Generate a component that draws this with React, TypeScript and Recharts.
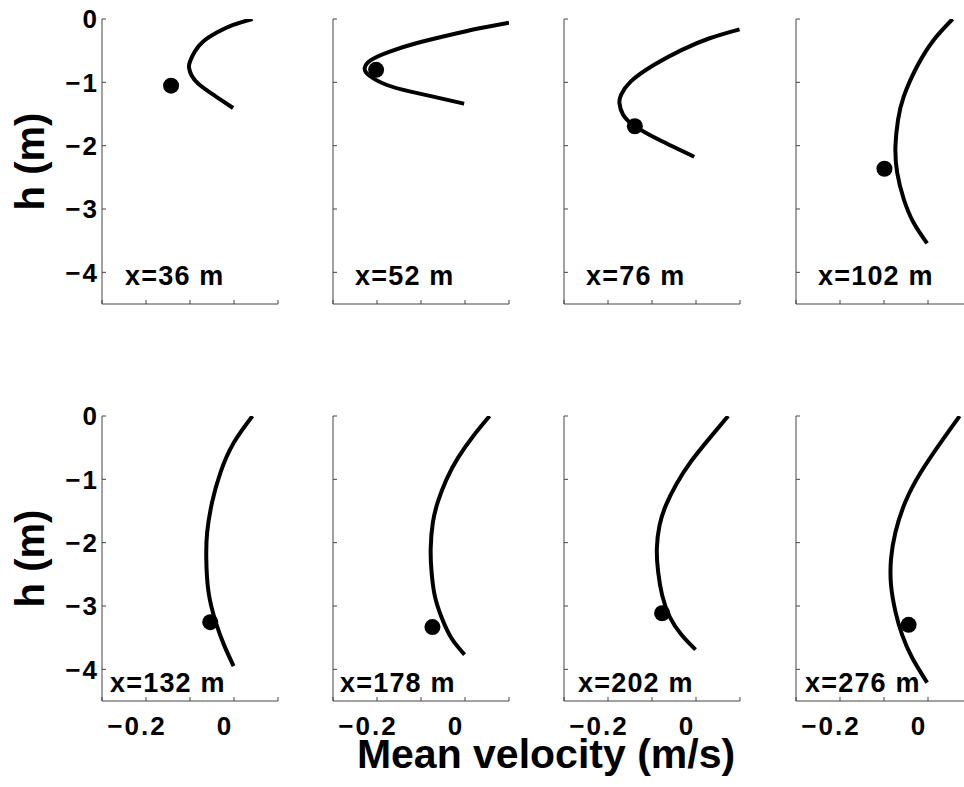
import React from "react";
import { ComposedChart, Line, XAxis, YAxis, ReferenceDot } from "recharts";

// station distance (m) for each panel, left-to-right, top-to-bottom
const stations = [36, 52, 76, 102, 132, 178, 202, 276];

const depthTicks = [0, -1, -2, -3, -4];
const velocityTicks = [-0.3, -0.2, -0.1, 0, 0.1];
const velocityTickLabels: Record<string, string> = { "-0.2": "\u22120.2", "0": "0" };

// velocity profiles: [h (m), mean velocity (m/s)]
const profile36: [number, number][] = [
  [0, 0.042], [-0.094, -0.002], [-0.215, -0.039], [-0.356, -0.07], [-0.514, -0.089],
  [-0.671, -0.1], [-0.776, -0.102], [-0.896, -0.096], [-1.022, -0.081],
  [-1.158, -0.055], [-1.284, -0.028], [-1.405, -0.002],
];
const profile52: [number, number][] = [
  [-0.058, 0.1], [-0.147, 0.033], [-0.252, -0.035], [-0.383, -0.111], [-0.514, -0.171],
  [-0.645, -0.213], [-0.776, -0.228], [-0.896, -0.217], [-1.038, -0.179],
  [-1.143, -0.126], [-1.237, -0.065], [-1.337, -0.002],
];
const profile76: [number, number][] = [
  [-0.163, 0.099], [-0.304, 0.031], [-0.487, -0.032], [-0.723, -0.095], [-0.985, -0.148],
  [-1.195, -0.17], [-1.326, -0.174], [-1.509, -0.166], [-1.682, -0.141],
  [-1.903, -0.085], [-2.175, -0.004],
];
const profile102: [number, number][] = [
  [0, 0.056], [-0.33, 0.013], [-0.75, -0.025], [-1.221, -0.055], [-1.588, -0.068],
  [-2.007, -0.074], [-2.427, -0.07], [-2.846, -0.055], [-3.213, -0.033], [-3.543, -0.002],
];
const profile132: [number, number][] = [
  [0, 0.042], [-0.428, -0.001], [-0.897, -0.031], [-1.367, -0.05], [-1.836, -0.061],
  [-2.254, -0.063], [-2.775, -0.058], [-3.245, -0.042], [-3.61, -0.023], [-3.949, -0.001],
];
const profile178: [number, number][] = [
  [0, 0.056], [-0.323, 0.018], [-0.662, -0.016], [-1.0, -0.042], [-1.341, -0.061],
  [-1.68, -0.073], [-2.097, -0.078], [-2.462, -0.076], [-2.828, -0.069],
  [-3.166, -0.054], [-3.505, -0.031], [-3.767, -0.001],
];
const profile202: [number, number][] = [
  [0, 0.073], [-0.349, 0.031], [-0.715, -0.011], [-1.08, -0.045], [-1.419, -0.069],
  [-1.732, -0.083], [-2.097, -0.089], [-2.462, -0.086], [-2.828, -0.077],
  [-3.166, -0.06], [-3.453, -0.033], [-3.688, -0.001],
];
const profile276: [number, number][] = [
  [0, 0.072], [-0.428, 0.028], [-0.897, -0.017], [-1.366, -0.052], [-1.836, -0.074],
  [-2.254, -0.084], [-2.671, -0.084], [-3.088, -0.074], [-3.453, -0.059],
  [-3.818, -0.036], [-4.21, -0.002],
];

const profiles = [
  profile36, profile52, profile76, profile102,
  profile132, profile178, profile202, profile276,
];

// measured points (black dots)
const dotVelocity = [-0.143, -0.202, -0.139, -0.099, -0.054, -0.074, -0.077, -0.044];
const dotDepth = [-1.053, -0.802, -1.693, -2.364, -3.255, -3.333, -3.114, -3.297];

// layout
const COL_LEFT = [102, 333, 564, 796];
const ROW_TOP = [19, 416];
const PLOT_W = 176;
const PLOT_H = 285;
const ML = 60;
const MT = 15;
const MR = 15;
const MB = 45;
const LABEL_DX = [23, 22, 22, 22, 8, 7, 14, 9];

const FONT = "'Liberation Sans', Arial, Helvetica, sans-serif";
const AXIS = "#444";

function YTick({ x, y, payload, show }: any) {
  return (
    <g>
      <line x1={x} x2={x + 4} y1={y} y2={y} stroke={AXIS} strokeWidth={1} />
      {show && (
        <text
          x={x - 3}
          y={y}
          dy="0.36em"
          textAnchor="end"
          fontFamily={FONT}
          fontWeight="bold"
          fontSize={26}
          letterSpacing={2}
          fill="#000"
        >
          {payload.value === 0 ? "0" : `\u2212${Math.abs(payload.value)}`}
        </text>
      )}
    </g>
  );
}

function XTick({ x, y, payload, show }: any) {
  const label = velocityTickLabels[String(payload.value)];
  return (
    <g>
      <line x1={x} x2={x} y1={y} y2={y - 4} stroke={AXIS} strokeWidth={1} />
      {show && label && (
        <text
          x={x - 9}
          y={y + 34}
          textAnchor="middle"
          fontFamily={FONT}
          fontWeight="bold"
          fontSize={26}
          letterSpacing={2}
          fill="#000"
        >
          {label}
        </text>
      )}
    </g>
  );
}

function Panel({ index }: { index: number }) {
  const col = index % 4;
  const row = Math.floor(index / 4);
  const data = profiles[index].map(([h, v]) => ({ h, v }));
  return (
    <div
      style={{
        position: "absolute",
        left: COL_LEFT[col] - ML,
        top: ROW_TOP[row] - MT,
      }}
    >
      <ComposedChart
        width={ML + PLOT_W + MR}
        height={MT + PLOT_H + MB}
        layout="vertical"
        data={data}
        margin={{ top: MT, right: MR, left: 0, bottom: 0 }}
      >
        <XAxis
          type="number"
          domain={[-0.3, 0.1]}
          ticks={velocityTicks}
          interval={0}
          allowDataOverflow
          height={MB}
          tickSize={0}
          tickMargin={0}
          tickLine={false}
          axisLine={{ stroke: AXIS, strokeWidth: 1 }}
          tick={(p: any) => <XTick {...p} show={row === 1} />}
        />
        <YAxis
          type="number"
          dataKey="h"
          domain={[-4.5, 0]}
          ticks={depthTicks}
          interval={0}
          reversed
          allowDataOverflow
          width={ML}
          tickSize={0}
          tickMargin={0}
          tickLine={false}
          axisLine={{ stroke: AXIS, strokeWidth: 1 }}
          tick={(p: any) => <YTick {...p} show={col === 0} />}
        />
        <Line
          dataKey="v"
          type="natural"
          stroke="#000"
          strokeWidth={4}
          strokeLinecap="butt"
          dot={false}
          activeDot={false}
          isAnimationActive={false}
        />
        <ReferenceDot
          x={dotVelocity[index]}
          y={dotDepth[index]}
          r={8}
          fill="#000"
          stroke="none"
        />
      </ComposedChart>
    </div>
  );
}

export default function App() {
  return (
    <div
      style={{
        position: "absolute",
        left: 0,
        top: 0,
        width: 964,
        height: 787,
        overflow: "hidden",
        background: "#fff",
        fontFamily: FONT,
      }}
    >
      {stations.map((_, i) => (
        <Panel key={i} index={i} />
      ))}
      <svg
        width={964}
        height={787}
        style={{ position: "absolute", left: 0, top: 0, pointerEvents: "none" }}
      >
        {stations.map((s, i) => {
          const col = i % 4;
          const row = Math.floor(i / 4);
          return (
            <text
              key={s}
              x={COL_LEFT[col] + LABEL_DX[i]}
              y={row === 0 ? 285 : 692}
              fontFamily={FONT}
              fontWeight="bold"
              fontSize={27}
              letterSpacing={1.2}
              fill="#000"
            >
              {`x=${s} m`}
            </text>
          );
        })}
        {ROW_TOP.map((top) => (
          <text
            key={top}
            transform={`translate(44, ${top + PLOT_H / 2}) rotate(-90)`}
            textAnchor="middle"
            fontFamily={FONT}
            fontWeight="bold"
            fontSize={40}
            fill="#000"
          >
            h (m)
          </text>
        ))}
        <text
          x={546}
          y={768}
          textAnchor="middle"
          fontFamily={FONT}
          fontWeight="bold"
          fontSize={41}
          fill="#000"
        >
          Mean velocity (m/s)
        </text>
      </svg>
    </div>
  );
}
